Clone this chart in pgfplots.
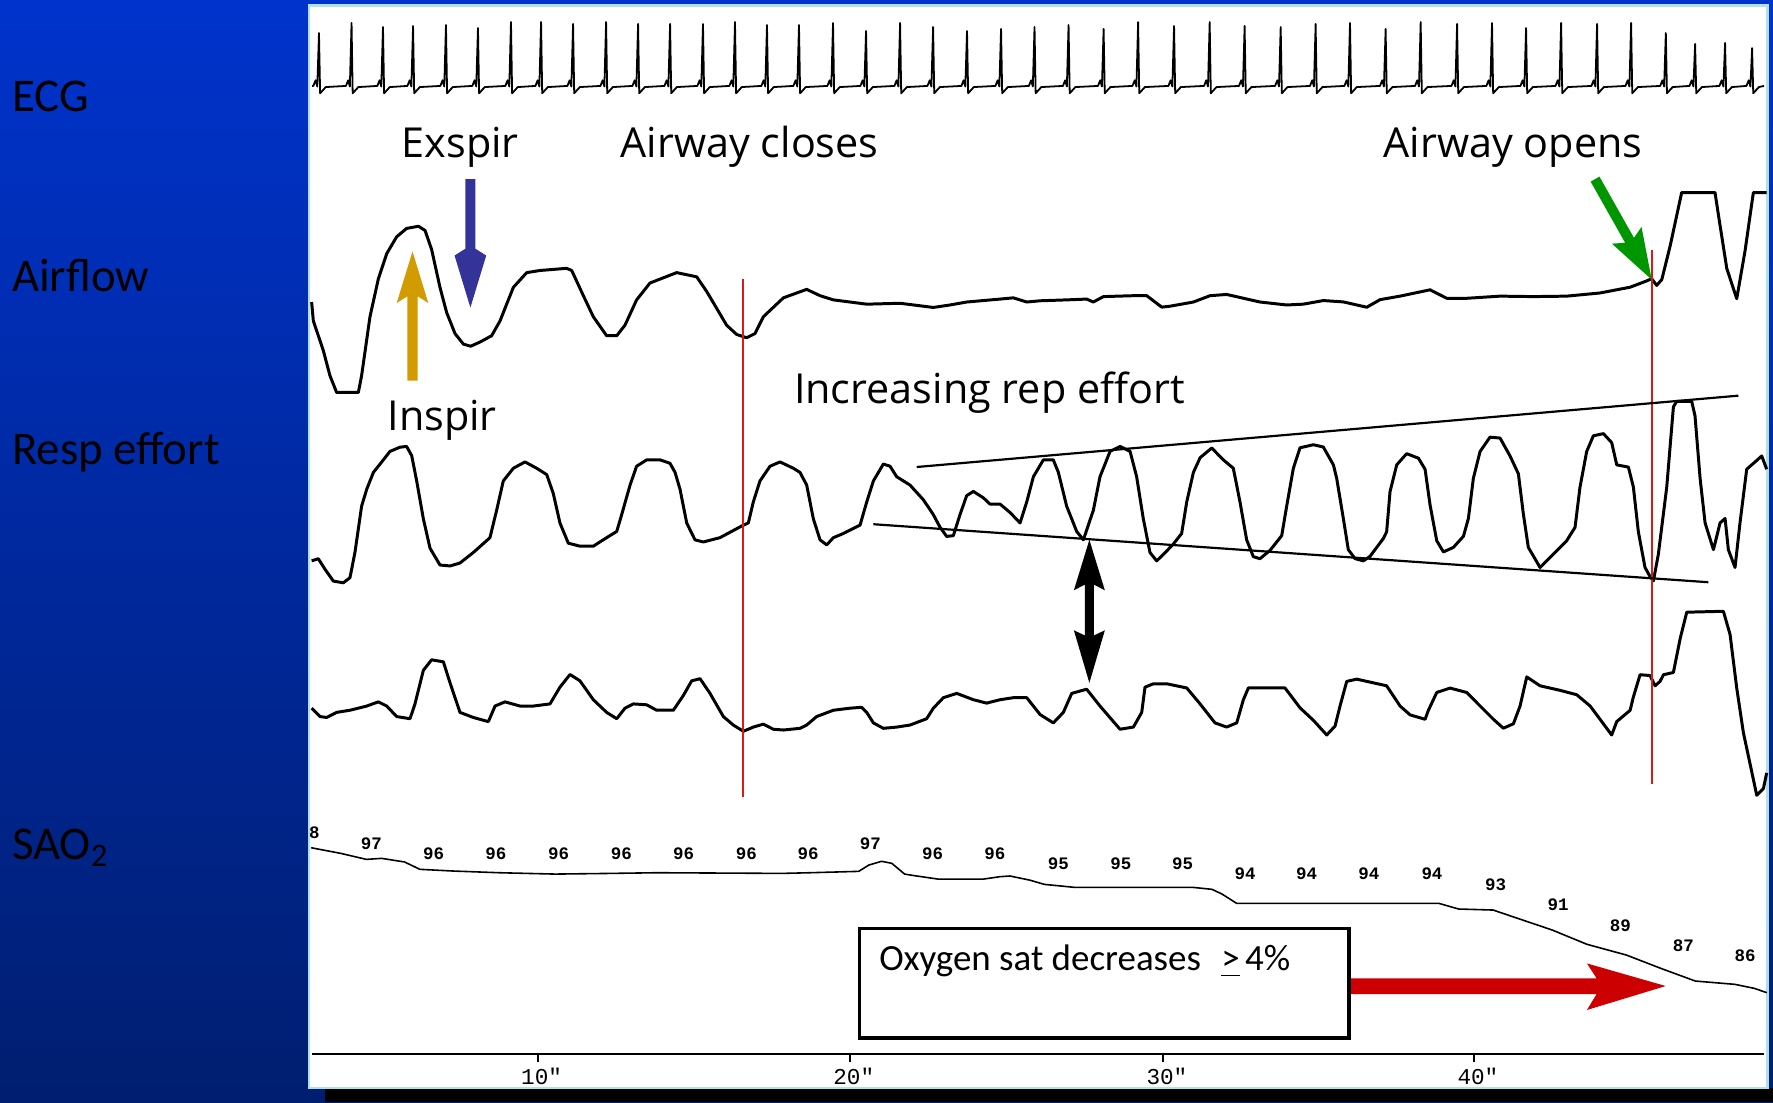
\documentclass[border=0pt]{standalone}
\usepackage{fontspec}
\setmainfont{Carlito}
\newfontfamily\osans{Open Sans}
\newfontfamily\monofont{Liberation Mono}
\usepackage{pgfplots}
\usepackage{pgfplotstable}
\pgfplotsset{compat=1.18}
\definecolor{bluetop}{RGB}{0,51,204}
\definecolor{bluebot}{RGB}{0,30,112}
\definecolor{goldarr}{RGB}{210,155,0}
\definecolor{indigoarr}{RGB}{51,51,153}
\definecolor{greenarr}{RGB}{0,150,0}
\definecolor{redarr}{RGB}{204,0,0}
\definecolor{redline}{RGB}{220,25,25}
\definecolor{panelborder}{RGB}{176,224,232}
\newcommand\satfont{\monofont\bfseries\fontsize{4.4}{5}\selectfont}
\newcommand\tickfont{\monofont\fontsize{5.7}{6}\selectfont}
\newcommand\labfont{\fontsize{11.8}{14}\selectfont}
\newcommand\annfont{\osans\fontsize{10.4}{12}\selectfont}

\pgfplotstableread{
x y lab
278 736.4 8
328.5 745.8 97
383.5 755.3 96
438.6 755.3 96
494.0 755.3 96
549.6 755.3 96
604.6 755.3 96
660.1 755.3 96
714.7 755.3 96
769.7 745.8 97
824.8 755.3 96
879.8 755.3 96
936.0 763.8 95
991.2 763.5 95
1045.8 763.5 95
1101.1 773.0 94
1155.6 773.0 94
1210.6 773.0 94
1266.4 773.0 94
1322.7 782.7 93
1378.0 800.4 91
1433.0 818.6 89
1488.8 836.3 87
1543.3 845.5 86
}\sattable

\begin{document}
\begin{tikzpicture}
\begin{axis}[scale only axis, width=15.68cm, height=9.75cm,
  xmin=0, xmax=1568, ymin=0, ymax=975, y dir=reverse, hide axis, clip=false]
% background
\shade[top color=bluetop, bottom color=bluebot] (axis cs:0,0) rectangle (axis cs:1568,975);
\fill[black] (axis cs:287,962) rectangle (axis cs:1568,975);
\filldraw[fill=white, draw=panelborder, line width=0.6pt] (axis cs:273.5,5) rectangle (axis cs:1563,962);

% ECG
\addplot[black, line width=0.45pt, line join=round] coordinates {
(276,76)
(277.1,76)(279.1,71)(280.6,76.5)(282.1,29.2)(283.1,82.5)(288.1,77)
(305.9,76)(307.9,71)(309.4,76.5)(310.9,20.3)(311.9,82.5)(316.9,77)
(333.7,76)(335.7,71)(337.2,76.5)(338.7,23.9)(339.7,82.5)(344.7,77)
(360.3,76)(362.3,71)(363.8,76.5)(365.3,23.0)(366.3,82.5)(371.3,77)
(389.4,76)(391.4,71)(392.9,76.5)(394.4,22.1)(395.4,82.5)(400.4,77)
(417.7,76)(419.7,71)(421.2,76.5)(422.7,24.8)(423.7,82.5)(428.7,77)
(446.9,76)(448.9,71)(450.4,76.5)(451.9,19.5)(452.9,82.5)(457.9,77)
(473.5,76)(475.5,71)(477,76.5)(478.5,19.5)(479.5,82.5)(484.5,77)
(501.8,76)(503.8,71)(505.3,76.5)(506.8,21.2)(507.8,82.5)(512.8,77)
(531,76)(533,71)(534.5,76.5)(536,19.5)(537,82.5)(542,77)
(559.3,76)(561.3,71)(562.8,76.5)(564.3,21.2)(565.3,82.5)(570.3,77)
(587.6,76)(589.6,71)(591.1,76.5)(592.6,21.2)(593.6,82.5)(598.6,77)
(616.7,76)(618.7,71)(620.2,76.5)(621.7,21.2)(622.7,82.5)(627.7,77)
(645,76)(647,71)(648.5,76.5)(650,19.5)(651,82.5)(656,77)
(673.3,76)(675.3,71)(676.8,76.5)(678.3,22.1)(679.3,82.5)(684.3,77)
(701.6,76)(703.6,71)(705.1,76.5)(706.6,22.1)(707.6,82.5)(712.6,77)
(731.7,76)(733.7,71)(735.2,76.5)(736.7,20.3)(737.7,82.5)(742.7,77)
(760.9,76)(762.9,71)(764.4,76.5)(765.9,27.4)(766.9,82.5)(771.9,77)
(791,76)(793,71)(794.5,76.5)(796,20.3)(797,82.5)(802,77)
(820.2,76)(822.2,71)(823.7,76.5)(825.2,23.9)(826.2,82.5)(831.2,77)
(850.2,76)(852.2,71)(853.7,76.5)(855.2,27.4)(856.2,82.5)(861.2,77)
(880.3,76)(882.3,71)(883.8,76.5)(885.3,25.6)(886.3,82.5)(891.3,77)
(909.9,76)(911.9,71)(913.4,76.5)(914.9,23.9)(915.9,82.5)(920.9,77)
(940,76)(942,71)(943.5,76.5)(945,22.1)(946,82.5)(951,77)
(971,76)(973,71)(974.5,76.5)(976,25.6)(977,82.5)(982,77)
(1001.5,76)(1003.5,71)(1005,76.5)(1006.5,19.5)(1007.5,82.5)(1012.5,77)
(1033.3,76)(1035.3,71)(1036.8,76.5)(1038.3,23)(1039.3,82.5)(1044.3,77)
(1064.8,76)(1066.8,71)(1068.3,76.5)(1069.8,19.5)(1070.8,82.5)(1075.8,77)
(1095.7,76)(1097.7,71)(1099.2,76.5)(1100.7,23)(1101.7,82.5)(1106.7,77)
(1127.6,76)(1129.6,71)(1131.1,76.5)(1132.6,23.9)(1133.6,82.5)(1138.6,77)
(1158.5,76)(1160.5,71)(1162,76.5)(1163.5,21.2)(1164.5,82.5)(1169.5,77)
(1188.9,76)(1190.9,71)(1192.4,76.5)(1193.9,20.3)(1194.9,82.5)(1199.9,77)
(1220.4,76)(1222.4,71)(1223.9,76.5)(1225.4,25.6)(1226.4,82.5)(1231.4,77)
(1251.4,76)(1253.4,71)(1254.9,76.5)(1256.4,19.5)(1257.4,82.5)(1262.4,77)
(1283.6,76)(1285.6,71)(1287.1,76.5)(1288.6,21.2)(1289.6,82.5)(1294.6,77)
(1314.5,76)(1316.5,71)(1318,76.5)(1319.5,20.3)(1320.5,82.5)(1325.5,77)
(1344.6,76)(1346.6,71)(1348.1,76.5)(1349.6,24.8)(1350.6,82.5)(1355.6,77)
(1375.6,76)(1377.6,71)(1379.1,76.5)(1380.6,20.3)(1381.6,82.5)(1386.6,77)
(1407.4,76)(1409.4,71)(1410.9,76.5)(1412.4,21.2)(1413.4,82.5)(1418.4,77)
(1437.5,76)(1439.5,71)(1441,76.5)(1442.5,20.3)(1443.5,82.5)(1448.5,77)
(1468.2,76)(1470.2,71)(1471.7,76.5)(1473.2,29.2)(1474.2,82.5)(1479.2,77)
(1494.1,76)(1496.1,71)(1497.6,76.5)(1499.1,38.9)(1500.1,82.5)(1505.1,77)
(1520.6,76)(1522.6,71)(1524.1,76.5)(1525.6,38)(1526.6,82.5)(1531.6,77)
(1544.5,76)(1546.5,71)(1548,76.5)(1549.5,42.5)(1550.5,82.5)(1555.5,77)
(1560,76)
};

% Airflow
\addplot[black, line width=0.75pt, line join=round] coordinates {
(275.6,267.1)(277.1,283.8)(285.9,309.9)(291.8,332.2)(297.7,347.1)(316.9,347.1)(319.8,332.2)(327.2,280.1)(334.6,246.6)(342,224.3)(350.8,209.4)(359.6,202)(370,200.1)(375.9,203.8)(381.7,220.6)(389.1,254.1)(395,276.4)(402.4,295)(409.8,304.3)(416.2,306.2)(424.5,302.5)(434.8,296.9)(442.2,283.8)(454,254.1)(465.8,241.1)(477.6,239.2)(501.1,237.3)(505.6,239.2)(515.9,261.5)(524.7,280.1)(536.5,296.9)(545.4,296.9)(552.7,287.6)(563,265.2)(574.8,250.3)(598.4,241.1)(616.1,244.8)(625,257.8)(633.8,272.7)(642.6,287.6)(651.5,295.8)(660.3,298.7)(667.7,295)(675.1,280.1)(692.8,263.4)(713.4,255.9)(725.2,261.5)(737,265.2)(766.5,269)(795.9,268.2)(825.4,271.9)(840.2,269.7)(854.9,267.1)(884.4,264.5)(896.2,263.4)(908,267.1)(919.8,266)(943.3,265.2)(961,264.5)(966.9,267.1)(975.8,262.3)(1002.3,261.5)(1014.1,261.5)(1027.4,271.6)(1034.7,270.8)(1055.4,267.1)(1070.1,261.5)(1084.8,260.4)(1114.3,267.1)(1137.9,269.7)(1152.6,269)(1170.3,265.8)(1188,267)(1208.7,271.7)(1220.5,265)(1238.1,261.9)(1264.7,256.3)(1279.4,263.8)(1297.1,263.8)(1326.6,261.9)(1356.1,262.3)(1385.5,261.9)(1415,259.1)(1441.6,254)(1456.3,248.4)(1460.7,246.5)(1465.1,252.4)(1469.6,247.3)(1477,217.6)(1487.2,170.3)(1516.7,170.3)(1519.7,190)(1527.1,237.4)(1535.9,264.2)(1543.3,221.6)(1550.6,170.3)(1562.4,170.3)
};

% Resp effort
\addplot[black, line width=0.75pt, line join=round] coordinates {
(275.6,496)(281.5,494.1)(287.4,503.4)(294.8,513.9)(303.6,515.4)(309.5,510.9)(313.9,488.6)(319.8,447.6)(324.3,432.7)(330.2,417.8)(336.1,410.4)(344.9,399.2)(353.7,395.5)(359.6,394.8)(364.1,403)(368.5,425.3)(374.4,458.8)(380.3,484.8)(389.1,499.7)(398,500.5)(406.8,497.9)(418.6,488.6)(433.3,475.5)(439.2,451.3)(445.1,425.3)(454,414.1)(464.3,408.5)(474.6,414.1)(483.5,419.7)(489.3,436.4)(495.2,462.5)(502.6,480.4)(512.9,483)(524.7,483)(536.5,475.5)(545.4,470)(549.8,455.1)(557.2,429)(563,412.3)(571.9,406.7)(583.7,406.7)(592.5,409.7)(597,417.8)(601.4,432.7)(607.3,462.5)(614.6,477.4)(622,479.3)(636.7,475.5)(657.4,464.4)(661.8,462.5)(666.2,443.9)(672.1,425.3)(681,412.3)(689.8,408.5)(701.6,414.1)
(707.5,417.8)(713.4,429)(719.3,458.8)(725.2,477.4)(731.1,481.9)(737,475.5)(745.8,471.8)(760.6,464.4)(766.5,443.9)(772.4,425.3)(781.2,410.4)(787.1,412.3)(793,421.6)(804.8,429)(816.6,442)(825.4,455.1)(831.3,466.2)(837.2,474.4)(843.1,473.7)(849,455.1)(854.9,438.3)(860.8,434.6)(869.6,440.2)(875.5,445.8)(884.4,445.8)(893.2,453.2)(902.1,462.5)(908,443.9)(913.9,421.6)(922.7,406.7)(931.5,406.7)(936,417.8)(943.3,447.6)(952.2,470)(958.1,477.4)(966.9,451.3)(972.8,421.6)(981.7,399.2)(990.5,394.8)(999.4,399.2)(1005.2,421.6)(1011.1,458.8)(1017,488.6)(1022.9,496)(1028.8,490.4)(1037.7,481.1)(1045,471.8)(1049.5,443.9)(1055.4,417.8)(1061.3,404.8)(1071.6,396.2)(1081.9,406.7)(1090.7,414.1)(1096.6,443.9)(1102.5,477.4)(1108.4,492.3)(1114.3,494.1)(1123.2,486.7)(1133.5,473.7)(1137.9,447.6)(1143.8,414.1)(1149.7,396)
(1161.5,393.3)(1170.3,395.3)(1179.2,411.1)(1182.1,422.9)(1188,458.5)(1192.4,486.1)(1198.3,494)(1205.7,496)(1211.6,492)(1223.4,476.2)(1226.3,470.3)(1229.3,434.8)(1235.2,411.1)(1244,401.2)(1254.4,405.2)(1260.3,415)(1264.7,446.6)(1270.6,478.2)(1276.5,488.1)(1285.3,484.1)(1294.2,474.3)(1298.6,458.5)(1303,422.9)(1308.9,399.3)(1317.7,386.6)(1326.6,387.4)(1335.4,403.2)(1342.8,419)(1347.2,454.5)(1351.6,484.1)(1362,501.9)(1373.7,490.1)(1385.5,478.2)(1392.9,466.4)(1397.3,430.8)(1403.2,399.3)(1409.1,385.4)(1418,383.5)(1425.3,391.4)(1429.8,411.1)(1440.1,413.1)(1444.5,430.8)(1448.9,470.3)(1454.8,501.9)(1459.2,509.8)(1462.2,513.7)(1466.6,490.1)(1474,430.8)(1479.9,359.8)(1482.8,355)(1496.1,355)(1499,367.7)(1503.5,422.9)(1507.9,462.4)(1515.3,486.1)(1521.2,462.4)(1525.6,458.5)(1528.5,486.1)(1534.4,501.9)(1538.8,462.4)(1544.7,415)(1553.6,407.2)(1558,403.2)(1562.4,415)
};

% Third effort channel
\addplot[black, line width=0.75pt, line join=round] coordinates {
(275.6,626.3)(283,633.7)(288.9,634.5)(297.7,630)(309.5,628.1)(324.3,624.4)(334.6,620.7)(342,624.4)(350.8,633.7)(362.6,635.6)(367,622.5)(374.4,592.8)(381.7,583.5)(392.1,585.3)(398,603.9)(406.8,630)(418.6,634.5)(431.9,638.2)(437.8,624.4)(446.6,620.7)(459.9,624.4)(471.7,624.4)(486.4,622.5)(495.2,607.7)(504.1,596.5)(512.9,602.1)(524.7,618.8)(536.5,630)(545.4,635.6)(552.7,626.3)(560.1,622.5)(571.9,623.3)(580.7,628.1)(595.5,628.1)(604.3,615.1)(611.7,602.1)(619.1,600.2)(627.9,613.2)(639.7,633.7)(648.5,641.2)(657.4,646.7)(666.2,643)(675.1,640.4)(683.9,644.9)(692.8,645.6)(707.5,644.1)
(713.4,641.2)(722.2,633.7)(737,628.1)(751.7,626.3)(762,625.5)(766.5,630)(772.4,639.3)(781.2,644.1)(793,643)(804.8,641.2)(819.5,635.6)(825.4,626.3)(834.3,617)(846.1,613.2)(860.8,618.8)(872.6,621.8)(884.4,618.8)(896.2,617)(908,617)(919.8,631.9)(931.5,639.3)(940.4,630)(947.8,613.2)(961,609.5)(972.8,624.4)(990.5,644.9)(1002.3,643)(1009.7,630)(1012.6,607.7)(1020,604.7)(1031.8,604.7)(1049.5,608.4)(1061.3,622.5)(1074.5,639.3)(1084.8,643)(1093.7,639.3)(1099.6,618.8)(1104,608.4)(1120.2,608.4)(1136.4,608.4)
(1149.7,626)(1161.5,637)(1173.3,650)(1180.7,642.1)(1185.1,624.3)(1191,602.6)(1199.8,600.6)(1226.3,606.5)(1238.1,624.3)(1247,632.2)(1260.3,636.1)(1263.2,628.2)(1270.6,612.4)(1282.4,608.5)(1297.1,612.4)(1308.9,624.3)(1320.7,636.1)(1329.5,644)(1338.4,640.1)(1344.3,624.3)(1350.2,598.6)(1362,606.5)(1379.6,610.5)(1394.4,614.4)(1406.2,624.3)(1415,636.1)(1425.3,650)(1429.8,638.1)(1441.6,628.2)(1444.5,616.4)(1450.4,596.7)(1459.2,597.4)(1463.7,606.5)(1468.1,602.6)(1471.1,596.7)(1479.9,594.7)(1485.8,565.1)(1491.7,541.4)(1524.1,540.6)(1530,561.1)(1535.9,608.5)(1541.8,648)(1547.7,675.6)(1553.6,703.3)(1559.5,697.3)(1562.4,683.5)
};

% SaO2
\addplot[black, line width=0.4pt, line join=round] coordinates {
(275.2,749.7)(301.4,754.7)(324,760)(337.5,759.1)(357.8,762.3)(371.3,768.8)(400.7,770.3)(441.3,771.8)(490.9,773)(540.5,772.4)(581.1,771.8)(691.7,772.4)(716.5,771.8)(759.4,770.6)(768.4,765)(779.7,761.7)(788.7,763.5)(800,773)(806.7,774.1)(829.3,777.4)(869.9,777.4)(884.4,775.3)(893.1,774.7)(910.5,778.3)(923.6,782.1)(949.8,784.7)(1054.5,784.7)(1071.9,786.5)(1080.6,790.6)(1093.7,798.9)(1272.5,798.9)(1290,803.9)(1320.5,804.8)(1342.3,812.2)(1372.8,822.5)(1403.4,835.1)(1438.3,844.6)(1468.8,856.4)(1499.3,867.6)(1534.2,870.5)(1551.6,874.1)(1562.5,877.9)
};
\addplot[draw=none, mark=none, nodes near coords, point meta=explicit symbolic,
  every node near coord/.style={anchor=center, font=\satfont, inner sep=0pt}]
  table[x=x, y=y, meta=lab] {\sattable};

% time axis
\addplot[black, line width=0.6pt] coordinates {(276,932)(1560,932)};
\addplot[black, line width=0.6pt] coordinates {(475.8,932)(475.8,939)};
\addplot[black, line width=0.6pt] coordinates {(751.7,932)(751.7,939)};
\addplot[black, line width=0.6pt] coordinates {(1028.6,932)(1028.6,939)};
\addplot[black, line width=0.6pt] coordinates {(1303.6,932)(1303.6,939)};
\node[font=\tickfont] at (axis cs:479,952) {10"};
\node[font=\tickfont] at (axis cs:755,952) {20"};
\node[font=\tickfont] at (axis cs:1032,952) {30"};
\node[font=\tickfont] at (axis cs:1307,952) {40"};

% red event lines
\addplot[redline, line width=0.6pt] coordinates {(657,247)(657,705)};
\addplot[redline, line width=0.6pt] coordinates {(1461,221)(1461,693)};

% effort envelope lines
\addplot[black, line width=0.55pt] coordinates {(810.7,413)(1537.4,349.9)};
\addplot[black, line width=0.55pt] coordinates {(772.4,463.6)(1510.8,514.9)};

% arrows
\fill[goldarr] (axis cs:360.3,336.7) -- (axis cs:360.3,262) -- (axis cs:350.8,268) -- (axis cs:364.8,222.4) -- (axis cs:378.8,268) -- (axis cs:369.3,262) -- (axis cs:369.3,336.7) -- cycle;
\fill[indigoarr] (axis cs:411.5,158.4) -- (axis cs:411.5,220) -- (axis cs:402,226) -- (axis cs:416,272) -- (axis cs:430,226) -- (axis cs:420.5,220) -- (axis cs:420.5,158.4) -- cycle;
\fill[greenarr] (axis cs:1406.7,160.6) -- (axis cs:1437.2,214.7) -- (axis cs:1425.5,215.5) -- (axis cs:1460.7,247.3) -- (axis cs:1451.7,200.7) -- (axis cs:1445.0,210.3) -- (axis cs:1414.5,156.2) -- cycle;
\fill[black] (axis cs:963.4,477.4) -- (axis cs:977.1,522) -- (axis cs:967.4,517) -- (axis cs:967.4,562) -- (axis cs:977.1,557.4) -- (axis cs:963.4,603.9) -- (axis cs:949.7,557.4) -- (axis cs:959.4,562) -- (axis cs:959.4,517) -- (axis cs:949.7,522) -- cycle;
\fill[redarr] (axis cs:1193,865.2) -- (axis cs:1412,865.2) -- (axis cs:1403.4,852) -- (axis cs:1473.1,872) -- (axis cs:1403.4,893.2) -- (axis cs:1412,879.1) -- (axis cs:1193,879.1) -- cycle;

% box
\draw[black, line width=0.8pt] (axis cs:760,821) rectangle (axis cs:1193,918);
\node[anchor=west, font=\fontsize{9.3}{11}\selectfont, inner sep=0pt] at (axis cs:777,850) {Oxygen sat decreases\hspace{0.55em}\underline{>}\hspace{0.15em}4\%};

% left labels
\node[anchor=west, font=\labfont, inner sep=0pt] at (axis cs:10,85) {ECG};
\node[anchor=west, font=\labfont, inner sep=0pt] at (axis cs:10,244) {Airflow};
\node[anchor=west, font=\labfont, inner sep=0pt] at (axis cs:10,400) {Resp effort};
\node[anchor=west, font=\labfont, inner sep=0pt] at (axis cs:10,750) {SAO\textsubscript{2}};

% annotations
\node[font=\annfont, inner sep=0pt] at (axis cs:407,130) {Exspir};
\node[font=\annfont, inner sep=0pt] at (axis cs:663,130) {Airway closes};
\node[font=\annfont, inner sep=0pt] at (axis cs:1338,130) {Airway opens};
\node[font=\annfont, inner sep=0pt] at (axis cs:875,347) {Increasing rep effort};
\node[font=\annfont, inner sep=0pt] at (axis cs:391,372) {Inspir};
\end{axis}
\pgfresetboundingbox
\path (0,0) rectangle (15.68cm,9.75cm);
\end{tikzpicture}
\end{document}
